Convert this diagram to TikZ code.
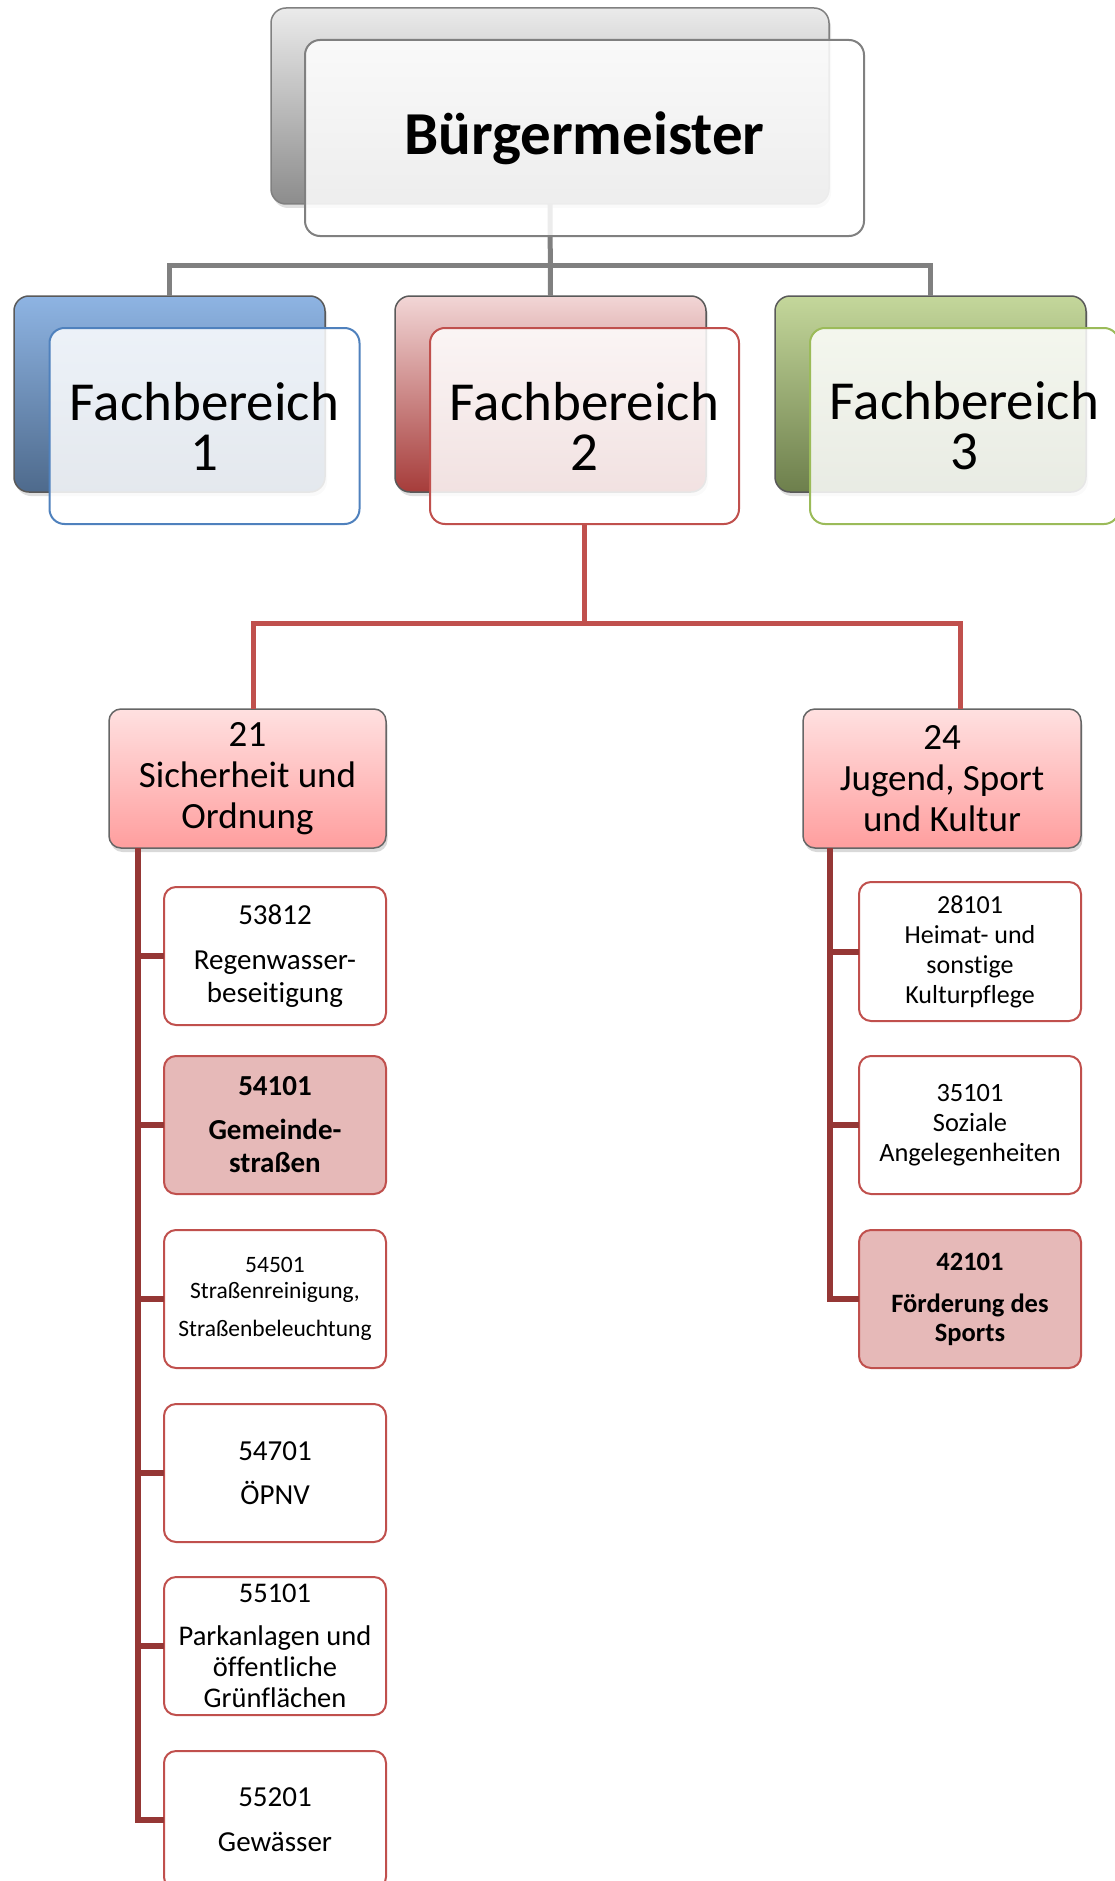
\documentclass[tikz,border=0pt]{standalone}
\usepackage{fontspec}
\setmainfont{Carlito}[Ligatures={NoCommon}]
\usetikzlibrary{shadows,calc}
\definecolor{graylineC}{HTML}{808080}
\definecolor{redC}{HTML}{C0504D}
\definecolor{darkredC}{HTML}{953735}
\definecolor{blueC}{HTML}{4F81BD}
\definecolor{greenC}{HTML}{9BBB59}
\definecolor{hiC}{HTML}{E6B9B8}
\tikzset{
  x=1pt, y=-1pt,
  backbox/.style={rectangle, rounded corners=15pt, draw=#1, line width=1.5pt, inner sep=0pt, outer sep=0pt,
     minimum width=311pt, minimum height=196pt,
     drop shadow={shadow xshift=2pt, shadow yshift=-4pt, opacity=0.25}},
  frontbox/.style={rectangle, rounded corners=15pt, draw=#1, line width=2pt, inner sep=0pt, outer sep=0pt,
     fill=white, fill opacity=0.85, text opacity=1, align=center,
     minimum width=310pt, minimum height=196pt},
  fbtext/.style={font=\fontsize{55}{50}\selectfont},
  unitbox/.style={rectangle, rounded corners=12pt, draw=gray!80!black, line width=1.5pt, inner sep=0pt, outer sep=0pt,
     top color=red!12, bottom color=red!38, align=center, minimum width=277pt, minimum height=139pt,
     font=\fontsize{37}{41}\selectfont,
     drop shadow={shadow xshift=1.5pt, shadow yshift=-4pt, opacity=0.3}},
  leafbox/.style={rectangle, rounded corners=12pt, draw=redC, line width=2pt, inner sep=0pt, outer sep=0pt,
     fill=white, align=center, minimum width=222pt, minimum height=138pt},
  hileaf/.style={leafbox, fill=hiC},
  grayline/.style={draw=graylineC, line width=5pt},
  redline/.style={draw=redC, line width=5pt},
  darkline/.style={draw=darkredC, line width=6pt},
}
\begin{document}
\begin{tikzpicture}
\useasboundingbox (0,0) rectangle (1115,1881);

% ---- top level back boxes
\node[backbox=graylineC, minimum width=558pt, top color=black!8, bottom color=black!45] (bmback) at (550,106) {};
\node[backbox=gray!70!black, top color={rgb,255:red,142;green,180;blue,227}, bottom color={rgb,255:red,78;green,106;blue,140}] (fb1back) at (169.5,394) {};
\node[backbox=gray!70!black, top color={rgb,255:red,242;green,214;blue,214}, bottom color={rgb,255:red,166;green,60;blue,58}] (fb2back) at (550.5,394) {};
\node[backbox=gray!70!black, top color={rgb,255:red,196;green,215;blue,155}, bottom color={rgb,255:red,109;green,127;blue,76}] (fb3back) at (930.5,394) {};

% ---- gray connectors
\draw[grayline] (bmback.south) -- (fb2back.north);
\draw[grayline] (fb1back.north) -- ++(0,-31) coordinate (hl) -| (fb3back.north);

% ---- front boxes
\node[frontbox=graylineC, minimum width=559pt, font=\fontsize{61}{66}\selectfont\bfseries] (bm) at (584.5,138) {Bürgermeister};
\node[frontbox=blueC, fbtext] (fb1) at (204.5,426) {Fachbereich\\1};
\node[frontbox=redC, fbtext, minimum width=309pt] (fb2) at (584.5,426) {Fachbereich\\2};
\node[frontbox=greenC, fbtext, minimum width=309pt] (fb3) at (964.5,426) {Fachbereich\\3};

% ---- second level
\node[unitbox] (u21) at (247.5,778.5) {21\\Sicherheit und\\Ordnung};
\node[unitbox, minimum width=278pt] (u24) at (942,778.5) {24\\Jugend, Sport\\und Kultur};

\coordinate (r21) at ($(u21.north west)+(144,0)$);
\coordinate (r24) at ($(u24.north west)+(157,0)$);
\draw[redline] (fb2.south) -- ++(0,99) coordinate (rh);
\draw[redline] (r21) -- (r21 |- rh) -- (r24 |- rh) -- (r24);

% ---- leaves left
\node[leafbox, font=\fontsize{29}{33}\selectfont] (l1) at (275,956) {53812\\[12pt]Regenwasser-\\beseitigung};
\node[hileaf, font=\fontsize{29}{33}\selectfont\bfseries] (l2) at (275,1125) {54101\\[11pt]Gemeinde-\\straßen};
\node[leafbox, font=\fontsize{23.5}{26}\selectfont] (l3) at (275,1299) {54501\\Straßenreinigung,\\[12pt]Straßenbeleuchtung};
\node[leafbox, font=\fontsize{29}{33}\selectfont] (l4) at (275,1473) {54701\\[11pt]ÖPNV};
\node[leafbox, font=\fontsize{28.5}{31}\selectfont] (l5) at (275,1646) {55101\\[12pt]Parkanlagen und\\öffentliche\\Grünflächen};
\node[leafbox, font=\fontsize{29}{33}\selectfont] (l6) at (275,1820) {55201\\[12pt]Gewässer};

% ---- leaves right
\node[leafbox, minimum height=139pt, font=\fontsize{26}{30}\selectfont] (r1) at (970,951.5) {28101\\Heimat- und\\sonstige\\Kulturpflege};
\node[leafbox, font=\fontsize{26.4}{30}\selectfont] (r2) at (970,1125) {35101\\Soziale\\Angelegenheiten};
\node[hileaf, font=\fontsize{26.5}{29}\selectfont\bfseries] (r3) at (970,1299) {42101\\[13pt]Förderung des\\Sports};

% ---- dark red trees
\coordinate (lt) at ($(u21.south west)+(29,0)$);
\coordinate (rt) at ($(u24.south west)+(27,0)$);
\draw[darkline] (lt) -- (lt |- l6.west) -- (l6.west);
\foreach \n in {l1,l2,l3,l4,l5} \draw[darkline] (lt |- \n.west) -- (\n.west);
\draw[darkline] (rt) -- (rt |- r3.west) -- (r3.west);
\foreach \n in {r1,r2} \draw[darkline] (rt |- \n.west) -- (\n.west);
\end{tikzpicture}
\end{document}
